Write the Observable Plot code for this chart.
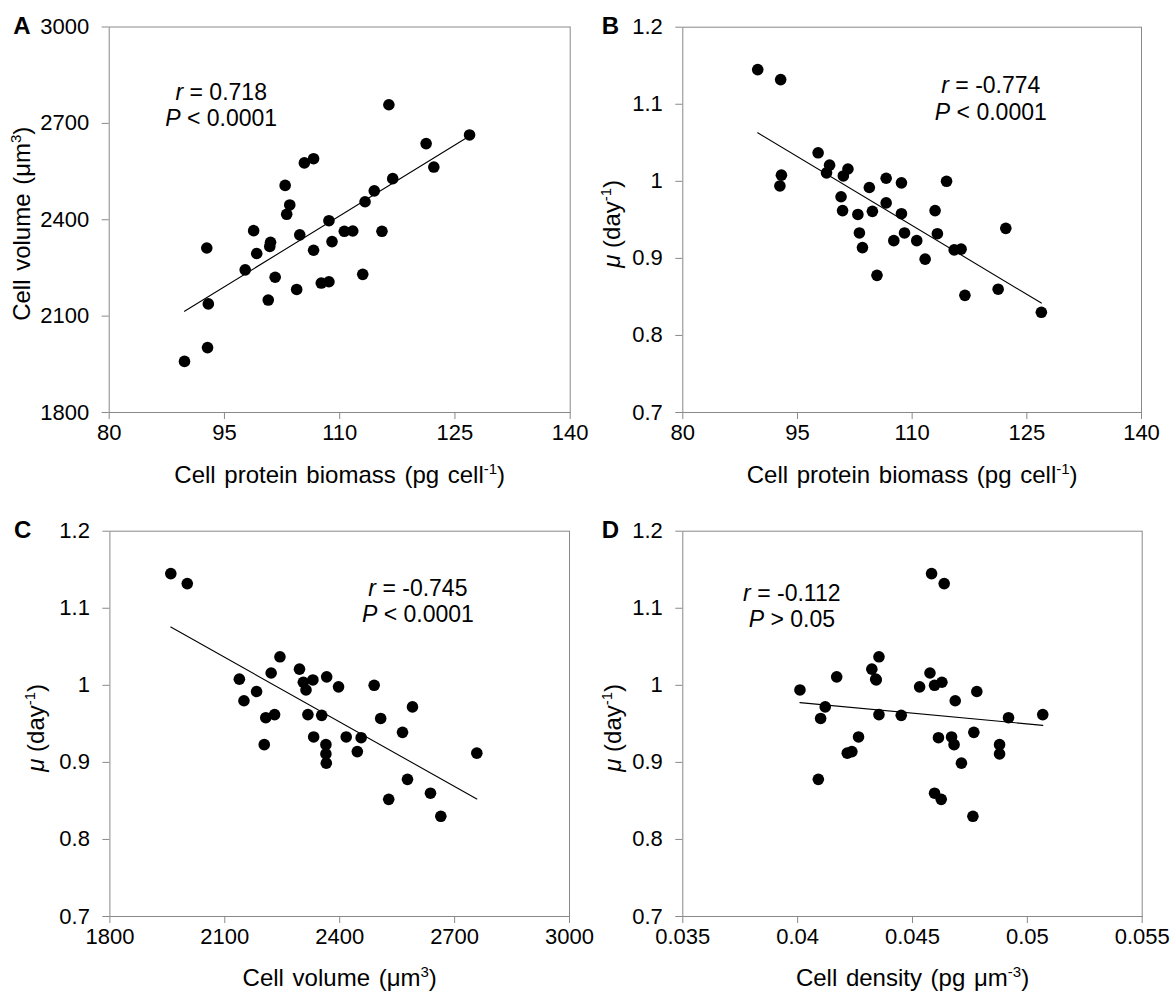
<!DOCTYPE html>
<html><head><meta charset="utf-8">
<script src="https://cdn.jsdelivr.net/npm/d3@7"></script>
<script src="https://cdn.jsdelivr.net/npm/@observablehq/plot@0.6"></script>
<style>
body{margin:0;background:#fff;}
#fig{position:relative;width:1172px;height:994px;overflow:hidden;background:#fff;}
.panel{position:absolute;}
</style></head><body><div id="fig"></div>
<script>
// ---- data (one entry per culture sample) ----
const protein = [89.8, 92.8, 92.9, 92.7, 97.7, 98.8, 99.2, 100.7, 101.0, 100.9, 101.6, 102.9, 103.1, 103.5, 104.4, 104.8, 105.4, 106.6, 106.6, 107.6, 108.6, 108.6, 109.0, 110.6, 111.7, 113.0, 113.3, 114.5, 115.5, 116.4, 116.9, 121.25, 122.25, 126.9];
const volume = [1959, 2002, 2138, 2312, 2244, 2366, 2295, 2150, 2330, 2317, 2221, 2507, 2417, 2446, 2183, 2353, 2577, 2305, 2590, 2203, 2397, 2207, 2332, 2364, 2365, 2230, 2456, 2490, 2364, 2758, 2528, 2637, 2564, 2664];
const mu = [1.145, 1.132, 1.008, 0.994, 1.037, 1.011, 1.021, 0.980, 1.007, 0.962, 1.016, 0.957, 0.933, 0.914, 0.992, 0.961, 0.878, 1.004, 0.972, 0.923, 0.998, 0.958, 0.933, 0.923, 0.899, 0.962, 0.932, 1.000, 0.911, 0.912, 0.852, 0.860, 0.939, 0.830];
const density = [0.04583, 0.04638, 0.0434, 0.0401, 0.04354, 0.0417, 0.04323, 0.04686, 0.04342, 0.04354, 0.04576, 0.0410, 0.04265, 0.04236, 0.0478, 0.04451, 0.0409, 0.04628, 0.0412, 0.04879, 0.04531, 0.04918, 0.0467, 0.04681, 0.04713, 0.05067, 0.04613, 0.04596, 0.04879, 0.04216, 0.04625, 0.04596, 0.04767, 0.04763];

const proteinTicks = [80, 95, 110, 125, 140];
const volumeTicks = [1800, 2100, 2400, 2700, 3000];
const muTicks = [0.7, 0.8, 0.9, 1, 1.1, 1.2];
const densityTicks = [0.035, 0.04, 0.045, 0.05, 0.055];

const panelLetters = ["A", "B", "C", "D"];
const rTexts = ["0.718", "-0.774", "-0.745", "-0.112"];
const pTexts = ["< 0.0001", "< 0.0001", "< 0.0001", "> 0.05"];
const xTitles = ["Cell protein biomass (pg cell^{-1})", "Cell protein biomass (pg cell^{-1})", "Cell volume (μm^{3})", "Cell density (pg μm^{-3})"];
const yTitles = ["Cell volume (μm^{3})", "*μ* (day^{-1})", "*μ* (day^{-1})", "*μ* (day^{-1})"];

// ---- layout & style ----
const GRAY = "#898989";
const FONT = "'Liberation Sans', Arial, sans-serif";
const fmt = d => String(+d.toFixed(4));

const panels = [
  {xs: protein, ys: volume, xt: proteinTicks, yt: volumeTicks, left: 0, top: 0, w: 573, h: 500, ml: 108.7, mr: 3.3, mt: 26.5, mb: 88, letterDx: -96, annDx: 112, annDy: [72.5, 98.5], xtDy: 70, ytDx: -79},
  {xs: protein, ys: mu, xt: proteinTicks, yt: muTicks, left: 573, top: 0, w: 599, h: 500, ml: 109.3, mr: 31, mt: 26.7, mb: 88, letterDx: -81, annDx: 308, annDy: [66, 92.5], xtDy: 70, ytDx: -62.5},
  {xs: volume, ys: mu, xt: volumeTicks, yt: muTicks, left: 0, top: 504, w: 573, h: 490, ml: 109.4, mr: 4, mt: 26.7, mb: 78, letterDx: -96, annDx: 308, annDy: [64.3, 91], xtDy: 69, ytDx: -66},
  {xs: density, ys: mu, xt: densityTicks, yt: muTicks, left: 573, top: 504, w: 599, h: 490, ml: 109.3, mr: 30.3, mt: 26.7, mb: 78, letterDx: -81, annDx: 109, annDy: [69.3, 96], xtDy: 69, ytDx: -62.3}
];

function richify(svg) {
  d3.select(svg).selectAll("text").each(function () {
    const t = this.textContent;
    if (!/[*^]/.test(t) || this.querySelector("tspan")) return;
    const sel = d3.select(this);
    sel.text(null);
    const parts = t.split(/(\*[^*]+\*|\^\{[^}]+\})/).filter(s => s);
    let raised = false;
    for (const p of parts) {
      const ts = sel.append("tspan");
      if (p.startsWith("^{")) {
        ts.attr("font-size", "15px").attr("dy", -9).text(p.slice(2, -1));
        raised = true;
        continue;
      }
      if (p.startsWith("*")) ts.attr("font-style", "italic").text(p.slice(1, -1));
      else ts.text(p);
      if (raised) { ts.attr("dy", 9); raised = false; }
    }
  });
}

const fig = document.getElementById("fig");
panels.forEach((c, i) => {
  const rows = c.xs.map((x, j) => ({x, y: c.ys[j]}));
  const plot = Plot.plot({
    width: c.w, height: c.h,
    marginLeft: c.ml, marginRight: c.mr, marginTop: c.mt, marginBottom: c.mb,
    style: {fontFamily: FONT, fontSize: "22px", background: "transparent", overflow: "visible", color: "#000"},
    x: {domain: [c.xt[0], c.xt[c.xt.length - 1]]},
    y: {domain: [c.yt[0], c.yt[c.yt.length - 1]]},
    marks: [
      Plot.frame({stroke: GRAY}),
      Plot.axisX({ticks: c.xt, tickFormat: fmt, tickSize: 7, tickPadding: 5, stroke: GRAY, fill: "#000", label: null}),
      Plot.axisY({ticks: c.yt, tickFormat: fmt, tickSize: 7, tickPadding: 13, stroke: GRAY, fill: "#000", label: null}),
      Plot.linearRegressionY(rows, {x: "x", y: "y", ci: 0, stroke: "#000", strokeWidth: 1.1}),
      Plot.dot(rows, {x: "x", y: "y", r: 5.8, fill: "#000"}),
      Plot.text([panelLetters[i]], {text: d => d, frameAnchor: "top-left", dx: c.letterDx, dy: 7, textAnchor: "start", lineAnchor: "bottom", fontWeight: "bold", fontSize: 24, fill: "#000"}),
      Plot.text([`*r* = ${rTexts[i]}`], {text: d => d, frameAnchor: "top-left", dx: c.annDx, dy: c.annDy[0], textAnchor: "middle", lineAnchor: "bottom", fontSize: 23, fill: "#000"}),
      Plot.text([`*P* ${pTexts[i]}`], {text: d => d, frameAnchor: "top-left", dx: c.annDx, dy: c.annDy[1], textAnchor: "middle", lineAnchor: "bottom", fontSize: 23, fill: "#000"}),
      Plot.text([xTitles[i]], {text: d => d, frameAnchor: "bottom", dy: c.xtDy, textAnchor: "middle", lineAnchor: "bottom", fontSize: 24, fill: "#000"}),
      Plot.text([yTitles[i]], {text: d => d, frameAnchor: "left", dx: c.ytDx, dy: 4, rotate: -90, textAnchor: "middle", lineAnchor: "bottom", fontSize: 24, fill: "#000"})
    ]
  });
  richify(plot);
  d3.select(plot).selectAll("text").filter(function () { return /\s/.test(this.textContent) && this.textContent.length > 12; }).attr("word-spacing", "2px");
  const div = document.createElement("div");
  div.className = "panel";
  div.style.left = c.left + "px";
  div.style.top = c.top + "px";
  div.appendChild(plot);
  fig.appendChild(div);
});
</script></body></html>
